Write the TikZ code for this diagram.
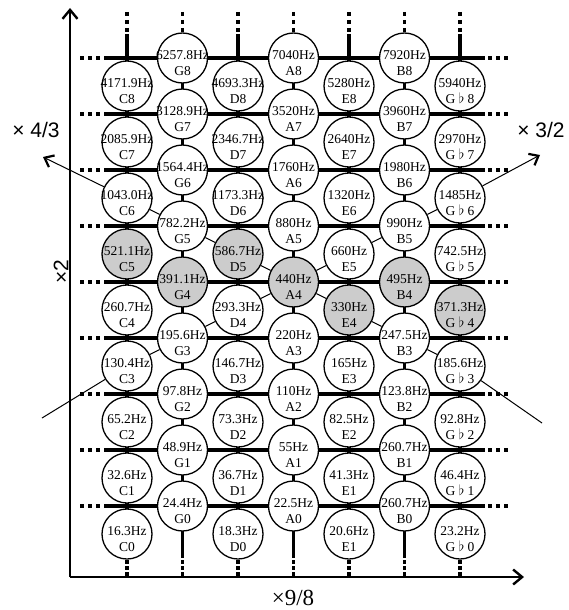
\documentclass[tikz,border=0pt]{standalone}
\usepackage{fontspec}
\setmainfont{Liberation Serif}
\newfontfamily\axisfont{Liberation Sans}
\usetikzlibrary{arrows.meta}

\begin{document}
\begin{tikzpicture}[x=1pt,y=-1pt,
		note/.style={circle,draw,line width=1.3pt,fill=white,minimum size=50pt,inner sep=0pt},
		hot/.style={note,fill=black!20},
		hz/.style={align=center,inner sep=0pt,font=\fontsize{13.5}{16}\selectfont,yshift=-5pt},
		bar/.style={line width=3.3pt},
		barend/.style={line width=3.3pt,dash pattern=on 4pt off 4pt},
		link/.style={line width=1pt},
		tip/.style={-{Straight Barb[length=8pt,width=13pt,line width=2.2pt]}},
		axis/.style={line width=1.4pt,-{Straight Barb[length=9pt,width=15pt,line width=2.4pt]}}]
			\useasboundingbox (0,0) rectangle (568,610);
			% lattice of octaves and fifths
			\foreach \r in {0,...,8}{
				\draw[bar] (104,{58+56*\r}) -- (485,{58+56*\r});
				\draw[barend] (80,{58+56*\r}) -- (100,{58+56*\r});
				\draw[barend] (488,{58+56*\r}) -- (508,{58+56*\r});
			}
			\foreach \c in {0,...,6}{
				\draw[bar] ({127+55.5*\c},34) -- ({127+55.5*\c},558);
				\draw[barend] ({127+55.5*\c},12) -- ({127+55.5*\c},32);
				\draw[barend,dash pattern=on 3.5pt off 2.5pt] ({127+55.5*\c},560) -- ({127+55.5*\c},576);
			}
			% notes
			\foreach \k/\f/\s in {8/4171.9/note,7/2085.9/note,6/1043.0/note,5/521.1/hot,4/260.7/note,3/130.4/note,2/65.2/note,1/32.6/note,0/16.3/note}
				\node[\s,label={[hz]center:\f Hz\\C\k}] (C\k) at (127,{86+56*(8-\k)}) {};
			\foreach \k/\f/\s in {8/6257.8/note,7/3128.9/note,6/1564.4/note,5/782.2/note,4/391.1/hot,3/195.6/note,2/97.8/note,1/48.9/note,0/24.4/note}
				\node[\s,label={[hz]center:\f Hz\\G\k}] (G\k) at (182.5,{58+56*(8-\k)}) {};
			\foreach \k/\f/\s in {8/4693.3/note,7/2346.7/note,6/1173.3/note,5/586.7/hot,4/293.3/note,3/146.7/note,2/73.3/note,1/36.7/note,0/18.3/note}
				\node[\s,label={[hz]center:\f Hz\\D\k}] (D\k) at (238,{86+56*(8-\k)}) {};
			\foreach \k/\f/\s in {8/7040/note,7/3520/note,6/1760/note,5/880/note,4/440/hot,3/220/note,2/110/note,1/55/note,0/22.5/note}
				\node[\s,label={[hz]center:\f Hz\\A\k}] (A\k) at (293.5,{58+56*(8-\k)}) {};
			\foreach \k/\f/\s/\o in {8/5280/note/8,7/2640/note/7,6/1320/note/6,5/660/note/5,4/330/hot/4,3/165/note/3,2/82.5/note/2,1/41.3/note/1,0/20.6/note/1}
				\node[\s,label={[hz]center:\f Hz\\E\o}] (E\k) at (349,{86+56*(8-\k)}) {};
			\foreach \k/\f/\s in {8/7920/note,7/3960/note,6/1980/note,5/990/note,4/495/hot,3/247.5/note,2/123.8/note,1/260.7/note,0/260.7/note}
				\node[\s,label={[hz]center:\f Hz\\B\k}] (B\k) at (404.5,{58+56*(8-\k)}) {};
			\foreach \k/\f/\s in {8/5940/note,7/2970/note,6/1485/note,5/742.5/note,4/371.3/hot,3/185.6/note,2/92.8/note,1/46.4/note,0/23.2/note}
				\node[\s,label={[hz]center:\f Hz\\G $\flat$ \k}] (Gb\k) at (460,{86+56*(8-\k)}) {};
			% chains of fourths and fifths
			\foreach \a/\b in {C6/G5,G5/D5,D5/A4,A4/E4,E4/B3,B3/Gb3,C3/G3,G3/D4,D4/A4,A4/E5,E5/B5,B5/Gb6}
				\draw[link] (\a) -- (\b);
			\coordinate (fourth) at (43,157);
			\coordinate (fifth) at (540,155);
			\coordinate (lowl) at (42,418);
			\coordinate (lowr) at (542,423);
			\draw[link,tip] (C6) -- (fourth);
			\draw[link,tip] (Gb6) -- (fifth);
			\draw[link] (C3) -- (lowl);
			\draw[link] (Gb3) -- (lowr);
			% axes
			\coordinate (o) at (70,577);
			\coordinate (ytip) at (70,8);
			\coordinate (xtip) at (524,577);
			\draw[axis] (o) -- (ytip);
			\draw[axis] (o) -- (xtip);
			\node[font=\axisfont\fontsize{21}{24}\selectfont] (q43) at (36,130) {× 4/3};
			\node[font=\axisfont\fontsize{21}{24}\selectfont] (q32) at (541,130) {× 3/2};
			\node[font=\axisfont\fontsize{21}{24}\selectfont,rotate=90] (q2) at (61,272) {×2};
			\node[font=\fontsize{23}{26}\selectfont] (q98) at (293,598) {×9/8};
		\end{tikzpicture}
\end{document}
